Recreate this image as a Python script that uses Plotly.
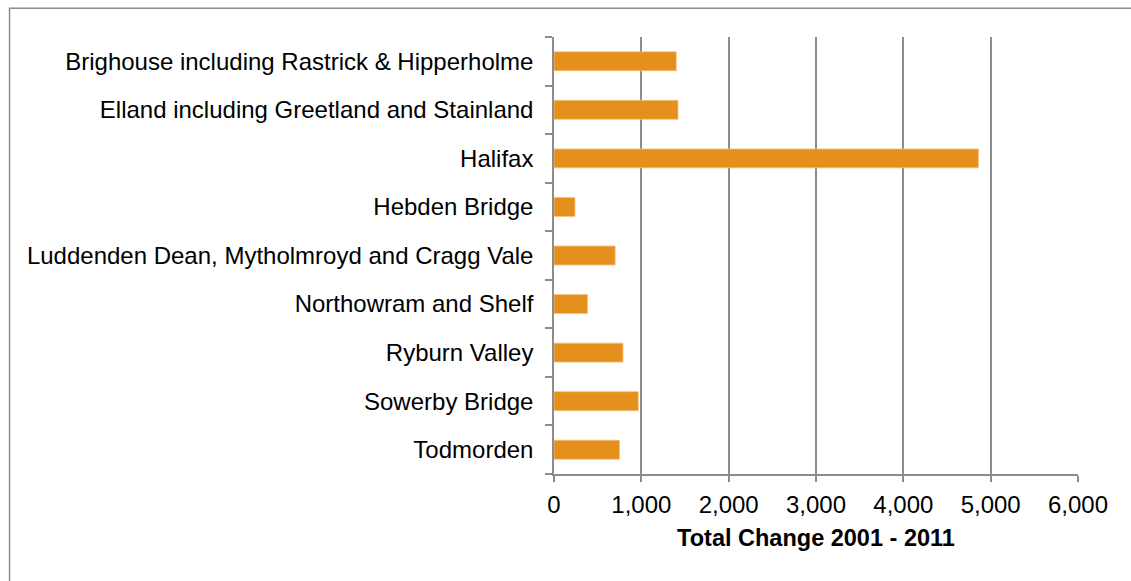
import plotly.graph_objects as go

# Population change by area, 2001 - 2011
areas = [
    "Brighouse including Rastrick & Hipperholme",
    "Elland including Greetland and Stainland",
    "Halifax",
    "Hebden Bridge",
    "Luddenden Dean, Mytholmroyd and Cragg Vale",
    "Northowram and Shelf",
    "Ryburn Valley",
    "Sowerby Bridge",
    "Todmorden",
]
total_change = [1400, 1420, 4860, 240, 700, 385, 790, 965, 750]
x_ticks = [0, 1000, 2000, 3000, 4000, 5000, 6000]

FONT = "Liberation Sans, Arial, sans-serif"
GREY = "#8c8c8c"

W, H = 1131, 581
L, R, T, B = 553.5, 52.5, 36.7, 106.5
pw, ph = W - L - R, H - T - B

fig = go.Figure(
    go.Bar(
        y=areas,
        x=total_change,
        orientation="h",
        marker=dict(color="#E58F1D", line=dict(color="#F3C184", width=0.8)),
        hoverinfo="x+y",
    )
)

# outer frame (left and top edges visible, rest runs off the page)
fig.add_shape(
    type="rect", xref="paper", yref="paper",
    x0=(8 - L) / pw, x1=(W + 20 - L) / pw,
    y0=(H - B - (H + 20)) / ph, y1=(H - B - 8) / ph,
    line=dict(color=GREY, width=1.5), fillcolor="rgba(0,0,0,0)",
    layer="below",
)

fig.update_layout(
    width=W, height=H,
    margin=dict(l=L, r=R, t=T, b=B, pad=0),
    paper_bgcolor="white", plot_bgcolor="white",
    font=dict(family=FONT, size=24, color="black"),
    bargap=0.61,
    showlegend=False,
)

fig.update_xaxes(
    range=[0, 6000],
    tickvals=x_ticks,
    tickformat=",",
    showgrid=True, gridcolor=GREY, gridwidth=1.5,
    zeroline=False,
    showline=True, linecolor=GREY, linewidth=1.5,
    ticks="outside", ticklen=6, tickcolor=GREY, tickwidth=1.5,
    tickfont=dict(size=24),
    ticklabelstandoff=2,
    title=dict(text="<b>Total Change 2001 - 2011</b>", font=dict(size=23.5), standoff=13),
)

fig.update_yaxes(
    categoryorder="array", categoryarray=areas[::-1],
    showgrid=False, zeroline=False,
    showline=True, linecolor=GREY, linewidth=1.5,
    ticks="outside", ticklen=7, tickcolor=GREY, tickwidth=1.5,
    tickson="boundaries",
    tickfont=dict(size=24),
    ticklabelstandoff=14,
)

fig.write_html("out.html")
